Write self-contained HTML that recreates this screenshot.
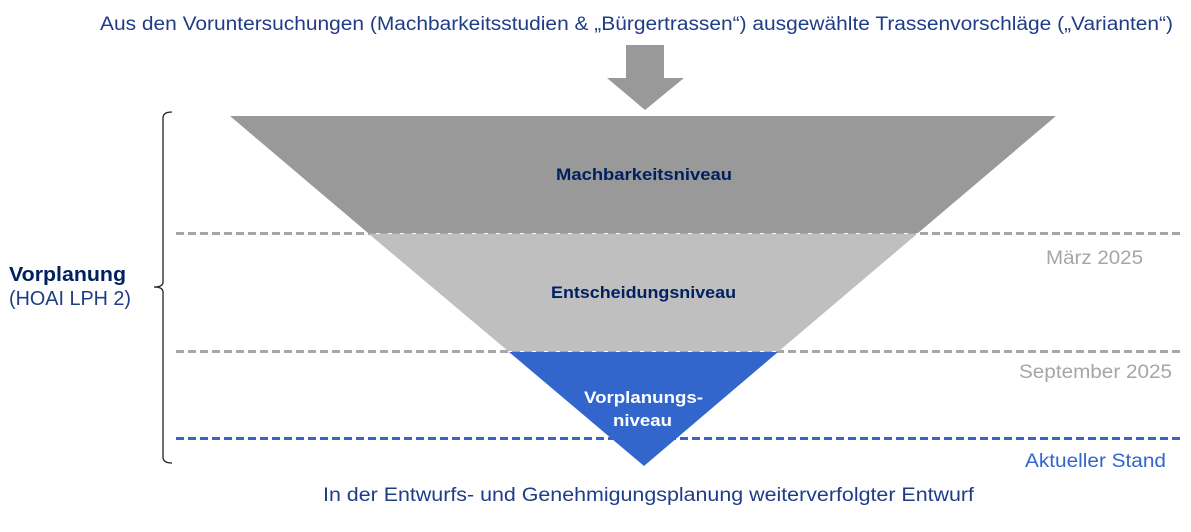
<!DOCTYPE html>
<html><head><meta charset="utf-8"><style>
html,body{margin:0;padding:0;background:#fff;}
svg{display:block;font-family:"Liberation Sans",sans-serif;}
</style></head><body>
<svg width="1191" height="532" viewBox="0 0 1191 532" xmlns="http://www.w3.org/2000/svg">
<text x="100" y="30" font-size="19" fill="#1f3c88" textLength="1073" lengthAdjust="spacingAndGlyphs">Aus den Voruntersuchungen (Machbarkeitsstudien &amp; „Bürgertrassen“) ausgewählte Trassenvorschläge („Varianten“)</text>
<polygon points="626,45 664,45 664,78 684,78 645,110 607,78 626,78" fill="#999999"/>
<g stroke-width="3" stroke-dasharray="8,4" fill="none">
<line x1="176" y1="233.5" x2="1180" y2="233.5" stroke="#a6a6a6"/>
<line x1="176" y1="351.5" x2="1180" y2="351.5" stroke="#a6a6a6"/>
<line x1="176" y1="438.5" x2="1180" y2="438.5" stroke="#3366cc"/>
</g>
<polygon points="230,116 1056,116 918,233 368,233" fill="#999999"/>
<polygon points="369,234 917,234 779,351 508,351" fill="#bfbfbf"/>
<polygon points="509,352 778,352 644,466" fill="#3366cc"/>
<path d="M172,112 Q163,112 163,118 L163,282 Q163,287 154,287 Q163,287 163,292 L163,457 Q163,463 172,463" stroke="#222" stroke-width="1.3" fill="none"/>
<g font-weight="bold" font-size="17" lengthAdjust="spacingAndGlyphs">
<text x="556" y="180" fill="#002060" textLength="176" lengthAdjust="spacingAndGlyphs">Machbarkeitsniveau</text>
<text x="551" y="298" fill="#002060" textLength="185" lengthAdjust="spacingAndGlyphs">Entscheidungsniveau</text>
<text x="584" y="403" fill="#fff" textLength="119" lengthAdjust="spacingAndGlyphs">Vorplanungs-</text>
<text x="613" y="426" fill="#fff" textLength="59" lengthAdjust="spacingAndGlyphs">niveau</text>
</g>
<text x="9" y="281" font-size="20" font-weight="bold" fill="#002060" textLength="117" lengthAdjust="spacingAndGlyphs">Vorplanung</text>
<text x="9" y="305" font-size="20" fill="#1f3c88" textLength="122" lengthAdjust="spacingAndGlyphs">(HOAI LPH 2)</text>
<text x="1046" y="264" font-size="19" fill="#a6a6a6" textLength="97" lengthAdjust="spacingAndGlyphs">März 2025</text>
<text x="1019" y="378" font-size="19" fill="#a6a6a6" textLength="153" lengthAdjust="spacingAndGlyphs">September 2025</text>
<text x="1025" y="467" font-size="19" fill="#3366cc" textLength="141" lengthAdjust="spacingAndGlyphs">Aktueller Stand</text>
<text x="323" y="501" font-size="19" fill="#1f3c88" textLength="651" lengthAdjust="spacingAndGlyphs">In der Entwurfs- und Genehmigungsplanung weiterverfolgter Entwurf</text>
</svg>
</body></html>
